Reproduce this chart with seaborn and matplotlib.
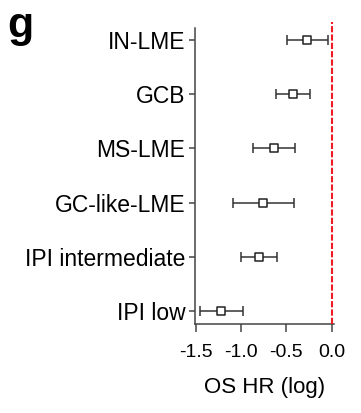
import numpy as np
import pandas as pd
import matplotlib
matplotlib.use('Agg')
import matplotlib.pyplot as plt
import seaborn as sns

# data (log hazard ratio with 95% CI)
groups = ['IN-LME', 'GCB', 'MS-LME', 'GC-like-LME', 'IPI intermediate', 'IPI low']
hr_log = [-0.27, -0.43, -0.64, -0.76, -0.80, -1.22]
ci_low = [-0.49, -0.61, -0.87, -1.09, -1.00, -1.45]
ci_high = [-0.04, -0.24, -0.41, -0.42, -0.60, -0.98]
xticks = [-1.5, -1.0, -0.5, 0.0]

df = pd.DataFrame({'group': groups, 'hr': hr_log, 'lo': ci_low, 'hi': ci_high})
df['pos'] = np.arange(len(df))

sns.set_style('ticks')
plt.rcParams['font.family'] = ['Liberation Sans', 'DejaVu Sans']
plt.rcParams['axes.unicode_minus'] = False
plt.rcParams['text.color'] = 'black'
plt.rcParams['axes.labelcolor'] = 'black'
plt.rcParams['xtick.color'] = 'black'
plt.rcParams['ytick.color'] = 'black'

fig = plt.figure(figsize=(3.61, 4.13), dpi=100)
ax = fig.add_axes([0.540, 0.215, 0.385, 0.717])

# confidence intervals
ax.errorbar(df['hr'], df['pos'],
            xerr=[df['hr'] - df['lo'], df['hi'] - df['hr']],
            fmt='none', ecolor='#333333', elinewidth=1.1, capsize=3.6,
            capthick=1.1, zorder=2)
# point estimates
sns.scatterplot(data=df, x='hr', y='pos', marker='s', s=30, color='white',
                edgecolor='#222222', linewidth=1.1, zorder=3, ax=ax, legend=False)

ax.axvline(0, ymin=0, ymax=1.02, color='#ee1c25', linestyle=(0, (3, 1)),
           linewidth=1.5, zorder=4, clip_on=False)

ax.set_xlim(-1.51, 0.025)
ax.set_ylim(len(df) - 0.755, -0.22)
ax.set_yticks(df['pos'])
ax.set_yticklabels(groups, fontsize=16.5)
ax.set_xticks(xticks)
ax.set_xticklabels([f'{t:.1f}' for t in xticks], fontsize=14)
ax.set_xlabel('OS HR (log)', fontsize=16, labelpad=12)
ax.set_ylabel('')

for s in ['left', 'bottom']:
    ax.spines[s].set_color('#444444')
    ax.spines[s].set_linewidth(1.1)
sns.despine(ax=ax)
ax.tick_params(axis='y', length=4, width=1.1, color='#444444', pad=3)
ax.tick_params(axis='x', length=6, width=1.1, color='#444444', pad=8)

fig.text(0.02, 0.985, 'g', fontsize=31, fontweight='bold', va='top', ha='left')

fig.savefig('out.png', dpi=100)
